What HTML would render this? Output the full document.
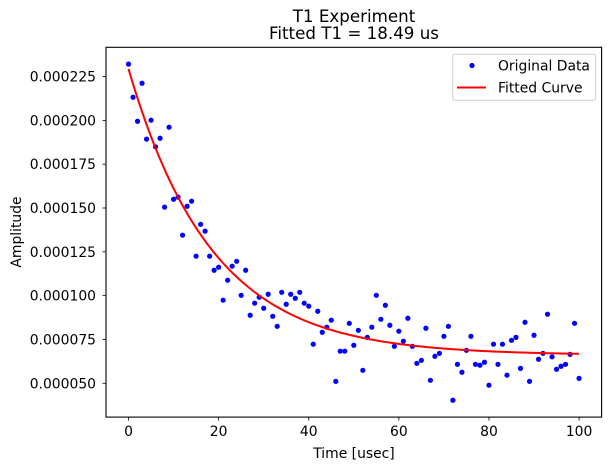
<!DOCTYPE html>
<html><head><meta charset="utf-8"><style>
html,body{margin:0;padding:0;background:#fff;}
svg{display:block;font-family:"DejaVu Sans","Liberation Sans",sans-serif;}
</style></head><body>
<svg id="chart" width="611" height="470" viewBox="0 0 611 470">
<rect x="0" y="0" width="611" height="470" fill="#fff"/>
<text x="354" y="22" font-size="16.7" text-anchor="middle">T1 Experiment</text>
<text x="354" y="39" font-size="16.7" text-anchor="middle">Fitted T1 = 18.49 us</text>
<g id="grid-ticks"></g>
<g id="marks"></g>
<rect x="106" y="47.3" width="495.6" height="369.8" fill="none" stroke="#000" stroke-width="1.1"/>
<text x="354" y="458" font-size="13.9" text-anchor="middle">Time [usec]</text>
<text x="0" y="0" font-size="13.9" text-anchor="middle" transform="translate(21,232) rotate(-90)">Amplitude</text>
<g>
<rect x="452.7" y="54.3" width="143" height="46" rx="2.5" fill="#fff" fill-opacity="0.8" stroke="#ccc" stroke-width="1"/>
<circle cx="472" cy="65.5" r="2.6" fill="#0000ff"/>
<text x="498" y="70.5" font-size="13.9">Original Data</text>
<line x1="457" y1="87.5" x2="486" y2="87.5" stroke="#ff0000" stroke-width="2"/>
<text x="498" y="92.5" font-size="13.9">Fitted Curve</text>
</g>
</svg>
<script>
const xTicks = [0, 20, 40, 60, 80, 100];
const yTicks = [50, 75, 100, 125, 150, 175, 200, 225];
const yTickLabels = ["0.000050","0.000075","0.000100","0.000125","0.000150","0.000175","0.000200","0.000225"];
const amplitude = [232.1,213.2,199.5,221.2,189.3,200.1,184.9,189.8,150.5,196.1,155.0,156.2,134.5,151.0,153.9,122.5,140.7,136.8,122.5,114.5,116.2,97.4,108.8,116.8,119.6,100.2,114.5,88.8,95.7,99.1,92.8,100.8,88.2,82.5,101.9,95.1,100.8,98.5,101.9,95.7,94.0,72.3,91.1,79.1,82.0,86.0,51.1,68.3,68.3,84.2,71.7,80.2,57.4,76.2,82.0,100.2,86.5,94.5,83.1,71.1,79.7,74.0,87.1,71.1,61.4,63.1,81.4,51.7,65.4,67.1,76.8,82.5,40.3,60.8,56.3,68.8,76.8,60.8,60.3,62.0,48.9,72.3,60.8,72.3,54.6,74.5,76.2,58.5,84.8,51.1,77.4,63.7,67.1,89.4,65.1,58.0,59.7,60.8,66.5,84.2,52.8];
const fitA = 163.3;
const fitB = 66.1;
const fitT1 = 18.49;

const NS = "http://www.w3.org/2000/svg";
const L = 106, R = 601.6, T = 47.3, B = 417.1;
const xMin = -5, xMax = 105, yMin = 30.7, yMax = 241.7;
function sx(v){ return L + (v - xMin) / (xMax - xMin) * (R - L); }
function sy(v){ return B - (v - yMin) / (yMax - yMin) * (B - T); }
function mk(tag, attrs){ const e = document.createElementNS(NS, tag); for (const k in attrs) e.setAttribute(k, attrs[k]); return e; }

const g = document.getElementById('grid-ticks');
xTicks.forEach(v => {
  const t = mk('line', {x1: sx(v), x2: sx(v), y1: B, y2: B + 3.5, stroke: '#000', 'stroke-width': 0.8});
  
  
  g.appendChild(t);
  const tx = mk('text', {x: sx(v), y: B + 19, 'font-size': 13.9, 'text-anchor': 'middle'});
  tx.textContent = String(v);
  
  
  g.appendChild(tx);
});
yTicks.forEach((v, i) => {
  const t = mk('line', {x1: L - 3.5, x2: L, y1: sy(v), y2: sy(v), stroke: '#000', 'stroke-width': 0.8});
  
  
  g.appendChild(t);
  const tx = mk('text', {x: L - 10, y: sy(v) + 5, 'font-size': 13.9, 'text-anchor': 'end'});
  tx.textContent = yTickLabels[i];
  
  
  g.appendChild(tx);
});

const m = document.getElementById('marks');
amplitude.forEach((v, i) => {
  const c = mk('circle', {cx: sx(i), cy: sy(v), r: 2.6, fill: '#0000ff'});
  
  
  m.appendChild(c);
});
let d = '';
for (let i = 0; i <= 200; i++) {
  const t = i * 0.5;
  const v = fitA * Math.exp(-t / fitT1) + fitB;
  d += (i ? 'L' : 'M') + sx(t).toFixed(2) + ',' + sy(v).toFixed(2);
}
const p = mk('path', {d: d, fill: 'none', stroke: '#ff0000', 'stroke-width': 2});


m.appendChild(p);
</script>
</body></html>
